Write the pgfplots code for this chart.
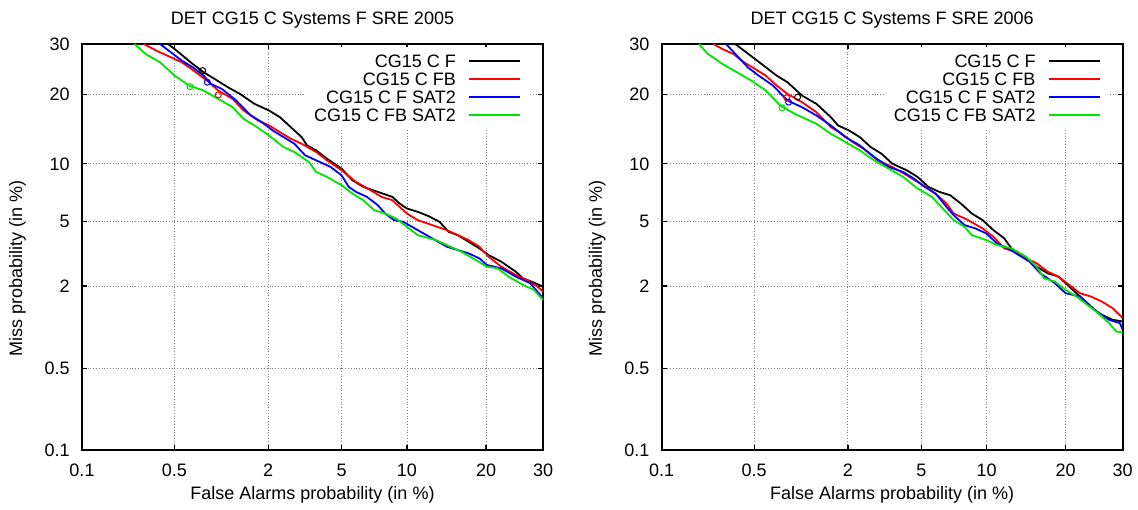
\documentclass[border=0pt]{standalone}
\usepackage{fontspec}
\setmainfont{Liberation Sans}
\usepackage{pgfplots}
\pgfplotsset{compat=1.18}
\definecolor{cF}{rgb}{0,0,0}
\definecolor{cFB}{rgb}{1,0,0}
\definecolor{cFS}{rgb}{0,0,1}
\definecolor{cFBS}{rgb}{0,0.9,0}
\newcommand\lf{\fontsize{9pt}{10.8pt}\selectfont}
% All data are normal deviates (probit of the probability), as in a DET plot.
\pgfplotsset{
  every axis title/.style={font=\lf, at={(axis description cs:0.5,1.0468)}, anchor=base},
  detaxis/.style={
    scale only axis, width=230.5pt, height=203pt,
    xmin=-3.0902, xmax=-0.5244, ymin=-3.0902, ymax=-0.5244,
    xtick={-3.0902,-2.5758,-2.0537,-1.6449,-1.2816,-0.8416,-0.5244},
    xticklabels={0.1,0.5,2,5,10,20,30},
    ytick={-3.0902,-2.5758,-2.0537,-1.6449,-1.2816,-0.8416,-0.5244},
    yticklabels={0.1,0.5,2,5,10,20,30},
    grid=major,
    major grid style={densely dotted, gray, line width=0.45pt},
    tick align=inside, major tick length=2.5pt,
    tick style={black, line width=0.6pt},
    axis line style={line width=1pt},
    xticklabel style={font=\lf, anchor=base, yshift=-13.25pt},
    yticklabel style={font=\lf, anchor=east, inner sep=0pt, xshift=-6pt},
    xlabel={False Alarms probability (in \%)},
    ylabel={Miss probability (in \%)},
    xlabel style={font=\lf, at={(axis description cs:0.5,-0.1207)}, anchor=base},
    ylabel style={font=\lf, at={(axis description cs:-0.1399,0.448)}, anchor=center},
    legend style={font=\lf, at={(1,1)}, anchor=north east, xshift=-6.8pt, yshift=-1.1pt,
      draw=none, fill=white, inner sep=4pt, column sep=6.2pt, row sep=2.5pt,
      nodes={inner sep=0pt, text height=6.45pt, text depth=0pt}},
    legend cell align=right, legend plot pos=right,
    legend image code/.code={\draw[##1, line width=0.9pt] (0pt,0pt) -- (25.5pt,0pt);},
    every axis plot/.append style={line width=0.9pt},
  }
}
\begin{document}
\lf
\begin{tikzpicture}
\useasboundingbox (0,0) rectangle (569pt,254.5pt);
% ---------------- SRE 2005 ----------------
\begin{axis}[detaxis, at={(41pt,29.5pt)}, anchor=south west,
  title={DET CG15 C Systems F SRE 2005}]
\addplot[cF] coordinates {
(-2.6115,-0.5244) (-2.5751,-0.5559) (-2.4741,-0.6504) (-2.4135,-0.7029) (-2.3529,-0.7449)
(-2.2721,-0.8016) (-2.2115,-0.8394) (-2.1307,-0.9024) (-2.0499,-0.9444) (-1.9893,-0.9864)
(-1.9287,-1.0494) (-1.8681,-1.1124) (-1.8378,-1.1649) (-1.7873,-1.1964) (-1.7267,-1.2489)
(-1.6459,-1.3119) (-1.5853,-1.3854) (-1.5247,-1.4274) (-1.4439,-1.4589) (-1.3631,-1.4904)
(-1.3227,-1.5324) (-1.2823,-1.5639) (-1.2217,-1.5849) (-1.1611,-1.6122) (-1.1005,-1.6479)
(-1.0500,-1.7109) (-0.9995,-1.7319) (-0.9389,-1.7739) (-0.8783,-1.8159) (-0.8278,-1.8579)
(-0.7571,-1.8999) (-0.6763,-1.9629) (-0.6359,-2.0049) (-0.5753,-2.0322) (-0.5244,-2.0574)
};
\addlegendentry{CG15 C F}
\addplot[cFB] coordinates {
(-2.7468,-0.5244) (-2.6761,-0.5664) (-2.5953,-0.6084) (-2.5347,-0.6399) (-2.4943,-0.6714)
(-2.4438,-0.7134) (-2.3832,-0.7659) (-2.3327,-0.8184) (-2.2519,-0.8709) (-2.1913,-0.9444)
(-2.1105,-1.0074) (-2.0499,-1.0389) (-1.9893,-1.0809) (-1.9287,-1.1229) (-1.8681,-1.1544)
(-1.7873,-1.2069) (-1.7267,-1.2594) (-1.6459,-1.3224) (-1.5651,-1.3959) (-1.4843,-1.4484)
(-1.4237,-1.4904) (-1.3631,-1.5114) (-1.3227,-1.5534) (-1.2823,-1.5954) (-1.2217,-1.6374)
(-1.1409,-1.6689) (-1.0601,-1.7004) (-0.9995,-1.7319) (-0.9389,-1.7634) (-0.8783,-1.8054)
(-0.8278,-1.8684) (-0.7571,-1.9314) (-0.6763,-1.9839) (-0.6157,-2.0154) (-0.5551,-2.0574)
(-0.5244,-2.0889)
};
\addlegendentry{CG15 C FB}
\addplot[cFS] coordinates {
(-2.6559,-0.5244) (-2.5953,-0.5769) (-2.5347,-0.6294) (-2.4741,-0.6714) (-2.4135,-0.7239)
(-2.3731,-0.7764) (-2.3125,-0.8079) (-2.2317,-0.8814) (-2.1509,-0.9759) (-2.0903,-1.0179)
(-2.0297,-1.0704) (-1.9691,-1.1124) (-1.9085,-1.1544) (-1.8479,-1.2279) (-1.7873,-1.2594)
(-1.7065,-1.3014) (-1.6459,-1.3539) (-1.6055,-1.4274) (-1.5651,-1.4589) (-1.5045,-1.4904)
(-1.4439,-1.5429) (-1.4035,-1.5954) (-1.3530,-1.6374) (-1.3025,-1.6479) (-1.2217,-1.7004)
(-1.1409,-1.7529) (-1.0601,-1.8054) (-0.9995,-1.8264) (-0.9389,-1.8474) (-0.8783,-1.8789)
(-0.8379,-1.9209) (-0.7571,-1.9419) (-0.6763,-1.9944) (-0.5955,-2.0364) (-0.5244,-2.1309)
};
\addlegendentry{CG15 C F SAT2}
\addplot[cFBS] coordinates {
(-2.7973,-0.5244) (-2.7367,-0.5874) (-2.6559,-0.6399) (-2.5751,-0.7239) (-2.4943,-0.7869)
(-2.4135,-0.8184) (-2.3327,-0.8709) (-2.2519,-0.9234) (-2.1913,-0.9969) (-2.1307,-1.0389)
(-2.0499,-1.1019) (-1.9691,-1.1754) (-1.9085,-1.2069) (-1.8277,-1.2699) (-1.7873,-1.3329)
(-1.7267,-1.3644) (-1.6459,-1.4169) (-1.5853,-1.4694) (-1.5247,-1.5114) (-1.4641,-1.5744)
(-1.4035,-1.5954) (-1.3429,-1.6269) (-1.2823,-1.6794) (-1.2217,-1.7319) (-1.1207,-1.7634)
(-1.0399,-1.8054) (-0.9793,-1.8369) (-0.8985,-1.8894) (-0.8379,-1.9314) (-0.7773,-1.9419)
(-0.7167,-1.9944) (-0.6359,-2.0469) (-0.5753,-2.0784) (-0.5244,-2.1414)
};
\addlegendentry{CG15 C FB SAT2}
\addplot[cF, only marks, mark=o, mark size=1.5pt, line width=0.5pt, forget plot] coordinates {(-2.4185,-0.6926)};
\addplot[cFB, only marks, mark=o, mark size=1.5pt, line width=0.5pt, forget plot] coordinates {(-2.3317,-0.8462)};
\addplot[cFS, only marks, mark=o, mark size=1.5pt, line width=0.5pt, forget plot] coordinates {(-2.3929,-0.7659)};
\addplot[cFBS, only marks, mark=o, mark size=1.5pt, line width=0.5pt, forget plot] coordinates {(-2.4892,-0.7937)};
\end{axis}
% ---------------- SRE 2006 ----------------
\begin{axis}[detaxis, at={(330.85pt,29.5pt)}, anchor=south west,
  title={DET CG15 C Systems F SRE 2006}]
\addplot[cF] coordinates {
(-2.6820,-0.5244) (-2.6317,-0.5664) (-2.5714,-0.6189) (-2.5110,-0.6714) (-2.4507,-0.7239)
(-2.3904,-0.7659) (-2.3099,-0.8499) (-2.2295,-0.9024) (-2.1491,-0.9864) (-2.1088,-1.0389)
(-2.0485,-1.0704) (-1.9882,-1.1124) (-1.9278,-1.1754) (-1.8675,-1.2174) (-1.8072,-1.2804)
(-1.7267,-1.3224) (-1.6664,-1.3644) (-1.6061,-1.4274) (-1.5458,-1.4589) (-1.4854,-1.4799)
(-1.4251,-1.5324) (-1.3648,-1.5954) (-1.3044,-1.6374) (-1.2441,-1.7004) (-1.1838,-1.7529)
(-1.1436,-1.8159) (-1.0631,-1.8789) (-1.0028,-1.9314) (-0.9425,-1.9734) (-0.8821,-1.9944)
(-0.8419,-2.0364) (-0.7816,-2.0994) (-0.7212,-2.1624) (-0.6609,-2.2254) (-0.5805,-2.2674)
(-0.5244,-2.2779)
};
\addlegendentry{CG15 C F}
\addplot[cFB] coordinates {
(-2.8026,-0.5244) (-2.7524,-0.5559) (-2.6920,-0.5874) (-2.6317,-0.6399) (-2.5714,-0.6819)
(-2.5110,-0.7239) (-2.4507,-0.7869) (-2.3904,-0.8394) (-2.3099,-0.8919) (-2.2295,-0.9549)
(-2.1491,-1.0494) (-2.0887,-1.0914) (-2.0284,-1.1439) (-1.9681,-1.1859) (-1.8876,-1.2594)
(-1.8072,-1.3014) (-1.7267,-1.3539) (-1.6664,-1.3959) (-1.6061,-1.4379) (-1.5458,-1.4904)
(-1.5055,-1.5324) (-1.4653,-1.5954) (-1.3849,-1.6374) (-1.3044,-1.6899) (-1.2441,-1.7424)
(-1.1838,-1.8159) (-1.1234,-1.8369) (-1.0631,-1.8789) (-1.0028,-1.9104) (-0.9425,-1.9629)
(-0.8821,-1.9944) (-0.8218,-2.0469) (-0.7615,-2.0994) (-0.7012,-2.1204) (-0.6408,-2.1519)
(-0.5805,-2.1939) (-0.5244,-2.2569)
};
\addlegendentry{CG15 C FB}
\addplot[cFS] coordinates {
(-2.7322,-0.5244) (-2.6719,-0.5979) (-2.6116,-0.6714) (-2.5513,-0.7239) (-2.4708,-0.7869)
(-2.3904,-0.8814) (-2.3099,-0.9234) (-2.2295,-0.9759) (-2.1491,-1.0389) (-2.0686,-1.1124)
(-1.9882,-1.1649) (-1.9077,-1.2384) (-1.8273,-1.3014) (-1.7469,-1.3329) (-1.6865,-1.3749)
(-1.6262,-1.4274) (-1.5659,-1.4694) (-1.5055,-1.5534) (-1.4653,-1.6059) (-1.4050,-1.6689)
(-1.3447,-1.6899) (-1.2843,-1.7214) (-1.2240,-1.7844) (-1.1637,-1.8159) (-1.1034,-1.8579)
(-1.0430,-1.8999) (-0.9827,-1.9734) (-0.9022,-2.0364) (-0.8419,-2.0994) (-0.7615,-2.1204)
(-0.6810,-2.2044) (-0.6006,-2.2674) (-0.5402,-2.2884) (-0.5244,-2.3304)
};
\addlegendentry{CG15 C F SAT2}
\addplot[cFBS] coordinates {
(-2.8831,-0.5244) (-2.8328,-0.5874) (-2.7524,-0.6504) (-2.6719,-0.7029) (-2.5915,-0.7554)
(-2.5110,-0.8184) (-2.4306,-0.9129) (-2.3502,-0.9654) (-2.2295,-1.0284) (-2.1491,-1.0914)
(-2.0686,-1.1439) (-1.9882,-1.1964) (-1.9077,-1.2594) (-1.8273,-1.3119) (-1.7469,-1.3644)
(-1.6664,-1.4379) (-1.5860,-1.4904) (-1.5256,-1.5639) (-1.4653,-1.6374) (-1.4050,-1.6794)
(-1.3648,-1.7319) (-1.2843,-1.7634) (-1.2240,-1.7949) (-1.1436,-1.8159) (-1.0631,-1.8684)
(-1.0028,-1.9314) (-0.9626,-2.0049) (-0.9022,-2.0259) (-0.8419,-2.0784) (-0.7816,-2.1204)
(-0.7212,-2.1729) (-0.6609,-2.2254) (-0.6006,-2.2884) (-0.5604,-2.3409) (-0.5244,-2.3472)
};
\addlegendentry{CG15 C FB SAT2}
\addplot[cF, only marks, mark=o, mark size=1.5pt, line width=0.5pt, forget plot] coordinates {(-2.3341,-0.8604)};
\addplot[cFB, only marks, mark=o, mark size=1.5pt, line width=0.5pt, forget plot] coordinates {(-2.3940,-0.8646)};
\addplot[cFS, only marks, mark=o, mark size=1.5pt, line width=0.5pt, forget plot] coordinates {(-2.3843,-0.8919)};
\addplot[cFBS, only marks, mark=o, mark size=1.5pt, line width=0.5pt, forget plot] coordinates {(-2.4205,-0.9276)};
\end{axis}
\end{tikzpicture}
\end{document}
